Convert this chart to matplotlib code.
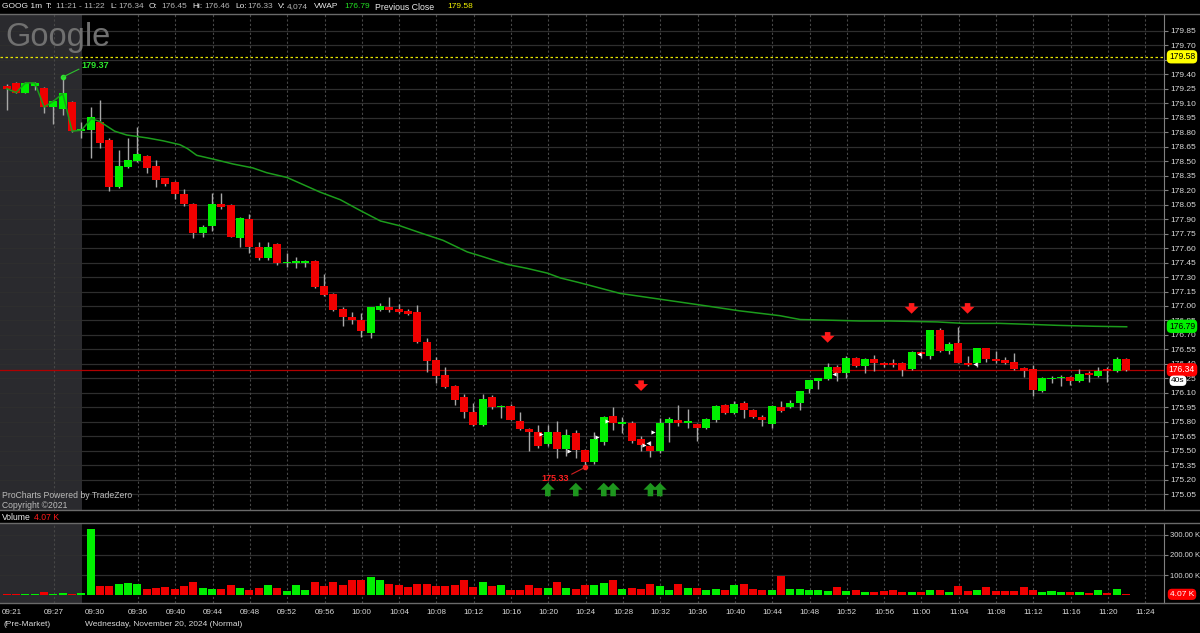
"""GOOG 1m chart, TradeZero ProCharts look: candles + VWAP + volume pane."""

import matplotlib

matplotlib.use("Agg")
import matplotlib.pyplot as plt  # noqa: E402
import matplotlib.transforms as mtransforms  # noqa: E402
from matplotlib.lines import Line2D  # noqa: E402
import numpy as np  # noqa: E402

W, H = 1200, 633

# ---- data --------------------------------------------------------------
# bar minute relative to 09:30 (pre-market bars negative)
minutes = list(range(-9, 112))

opens = [
    179.28, 179.31, 179.21, 179.28, 179.26, 179.06, 179.04, 179.11, 178.81,
    178.82, 178.90, 178.72, 178.23, 178.44, 178.50, 178.55, 178.45, 178.32, 178.28,
    178.16, 178.06, 177.76, 177.83, 178.06, 178.05, 177.70, 177.90, 177.61, 177.50,
    177.64, 177.44, 177.44, 177.45, 177.47, 177.21, 177.12, 176.97, 176.89, 176.85,
    176.72, 176.96, 176.99, 176.97, 176.95, 176.94, 176.63, 176.44, 176.29, 176.17,
    176.06, 175.90, 175.77, 176.06, 175.95, 175.96, 175.81, 175.73, 175.70, 175.57,
    175.70, 175.52, 175.68, 175.51, 175.38, 175.59, 175.86, 175.78, 175.79, 175.62,
    175.55, 175.50, 175.79, 175.82, 175.79, 175.78, 175.74, 175.82, 175.98, 175.89,
    176.00, 175.92, 175.85, 175.78, 175.95, 175.95, 176.00, 176.14, 176.22, 176.24,
    176.37, 176.31, 176.46, 176.38, 176.45, 176.41, 176.41, 176.41, 176.35, 176.52,
    176.48, 176.75, 176.53, 176.62, 176.41, 176.41, 176.56, 176.45, 176.44, 176.42,
    176.36, 176.35, 176.12, 176.24, 176.25, 176.27, 176.22, 176.30, 176.28, 176.34,
    176.33, 176.45,
]
highs = [
    179.30, 179.32, 179.32, 179.32, 179.27, 179.13, 179.37, 179.12, 178.90,
    179.06, 179.13, 178.74, 178.62, 178.74, 178.85, 178.56, 178.51, 178.33, 178.29,
    178.21, 178.07, 177.84, 178.17, 178.17, 178.06, 177.92, 177.95, 177.66, 177.66,
    177.65, 177.55, 177.51, 177.48, 177.48, 177.33, 177.13, 176.99, 176.94, 176.93,
    176.99, 177.03, 177.09, 177.02, 176.97, 177.01, 176.67, 176.47, 176.37, 176.18,
    176.09, 176.00, 176.09, 176.08, 175.98, 175.99, 175.90, 175.74, 175.77, 175.77,
    175.81, 175.73, 175.72, 175.52, 175.70, 175.86, 175.95, 175.85, 175.81, 175.65,
    175.60, 175.84, 175.85, 175.97, 175.93, 175.79, 175.84, 175.97, 175.99, 176.02,
    176.02, 175.93, 175.87, 175.98, 176.02, 176.03, 176.12, 176.23, 176.25, 176.41,
    176.39, 176.48, 176.47, 176.46, 176.49, 176.42, 176.45, 176.42, 176.53, 176.53,
    176.75, 176.77, 176.63, 176.78, 176.48, 176.57, 176.57, 176.53, 176.47, 176.51,
    176.37, 176.39, 176.26, 176.28, 176.29, 176.28, 176.35, 176.33, 176.37, 176.37,
    176.47, 176.46,
]
lows = [
    179.03, 179.20, 179.20, 179.24, 179.00, 178.88, 178.98, 178.80, 178.74,
    178.53, 178.64, 178.19, 178.22, 178.43, 178.49, 178.38, 178.23, 178.24, 178.11,
    178.04, 177.70, 177.71, 177.78, 178.00, 177.71, 177.61, 177.55, 177.48, 177.48,
    177.42, 177.40, 177.39, 177.40, 177.19, 177.10, 176.95, 176.79, 176.81, 176.68,
    176.67, 176.95, 176.94, 176.93, 176.91, 176.62, 176.32, 176.20, 176.15, 175.98,
    175.84, 175.76, 175.76, 175.93, 175.84, 175.82, 175.72, 175.50, 175.53, 175.55,
    175.43, 175.45, 175.43, 175.33, 175.36, 175.56, 175.72, 175.68, 175.58, 175.50,
    175.44, 175.48, 175.59, 175.76, 175.74, 175.60, 175.73, 175.80, 175.88, 175.88,
    175.84, 175.84, 175.76, 175.74, 175.90, 175.94, 175.92, 176.10, 176.14, 176.23,
    176.22, 176.25, 176.37, 176.31, 176.33, 176.37, 176.37, 176.28, 176.34, 176.46,
    176.45, 176.52, 176.50, 176.41, 176.38, 176.37, 176.42, 176.41, 176.40, 176.34,
    176.26, 176.07, 176.11, 176.20, 176.17, 176.18, 176.21, 176.21, 176.27, 176.21,
    176.32, 176.33,
]
closes = [
    179.25, 179.21, 179.31, 179.31, 179.06, 179.12, 179.20, 178.81, 178.82,
    178.96, 178.69, 178.23, 178.45, 178.51, 178.57, 178.43, 178.30, 178.26, 178.16,
    178.06, 177.76, 177.82, 178.06, 178.03, 177.71, 177.91, 177.61, 177.50, 177.61,
    177.45, 177.46, 177.47, 177.47, 177.20, 177.11, 176.96, 176.89, 176.85, 176.74,
    176.99, 177.00, 176.96, 176.94, 176.92, 176.63, 176.43, 176.28, 176.16, 176.03,
    175.90, 175.77, 176.04, 175.95, 175.96, 175.82, 175.73, 175.70, 175.55, 175.70,
    175.52, 175.66, 175.51, 175.38, 175.62, 175.85, 175.79, 175.79, 175.60, 175.56,
    175.50, 175.79, 175.83, 175.79, 175.80, 175.74, 175.83, 175.96, 175.89, 175.99,
    175.92, 175.85, 175.82, 175.96, 175.91, 176.00, 176.12, 176.23, 176.25, 176.37,
    176.31, 176.46, 176.38, 176.45, 176.41, 176.39, 176.39, 176.34, 176.52, 176.50,
    176.75, 176.53, 176.61, 176.41, 176.39, 176.56, 176.45, 176.43, 176.41, 176.35,
    176.33, 176.13, 176.25, 176.25, 176.26, 176.22, 176.30, 176.29, 176.33, 176.33,
    176.45, 176.34,
]
# volume in thousands of shares
volume_k = [
    5, 5, 5, 5, 15, 5, 10, 8, 10,
    328, 47, 47, 55, 60, 55, 32, 37, 40, 32,
    45, 63, 35, 32, 32, 50, 35, 28, 35, 50,
    35, 20, 50, 28, 65, 47, 63, 50, 77, 73,
    88, 73, 58, 50, 40, 55, 55, 47, 47, 50,
    73, 40, 63, 47, 50, 28, 25, 50, 35, 35,
    63, 35, 32, 50, 50, 62, 73, 32, 35, 30,
    58, 47, 28, 58, 38, 35, 28, 32, 25, 50,
    58, 32, 25, 25, 97, 32, 32, 25, 25, 20,
    40, 20, 25, 17, 17, 20, 28, 17, 17, 17,
    28, 28, 17, 47, 20, 25, 40, 20, 20, 20,
    40, 28, 17, 20, 17, 17, 17, 13, 25, 13,
    32, 4,
]

# VWAP line vertices (minute, price) from 09:30 on
vwap_t = [1.0, 1.9, 3.5, 4.8, 7.0, 8.7, 10.5, 11.3, 12.3, 14.1, 16.2, 18.3,
          19.8, 22.0, 23.4, 25.5, 27.7, 29.8, 32.0, 34.1, 36.2, 38.7, 41.3,
          43.0, 45.6, 47.7, 49.9, 51.3, 53.4, 57.7, 62.0, 66.3, 70.5, 74.8,
          77.0, 79.4, 83.4, 86.6, 91.7, 94.5, 98.4, 101.6, 104.5, 108.6, 112.0]
vwap = [178.94, 178.91, 178.81, 178.77, 178.74, 178.71, 178.67, 178.63,
        178.56, 178.52, 178.47, 178.43, 178.38, 178.33, 178.27, 178.18,
        178.10, 177.99, 177.88, 177.83, 177.76, 177.68, 177.56, 177.51,
        177.43, 177.39, 177.34, 177.29, 177.24, 177.13, 177.07, 177.01,
        176.95, 176.90, 176.86, 176.855, 176.845, 176.845, 176.835, 176.82,
        176.82, 176.81, 176.80, 176.79, 176.785]

prev_close = 179.58
vwap_last = 176.79
last_price = 176.34
last_volume_k = 4.07

# signal arrows (bar minute) and white fill markers
up_arrow_bars = [49, 52, 55, 56, 60, 61]
down_arrow_bars = [59, 79, 88, 94]
down_arrow_tops = [176.23, 176.73, 177.03, 177.03]
fill_t = [49.2, 52.25, 55.2, 56.3, 60.2, 60.7, 61.25, 80.6, 89.7, 95.7]
fill_price = [175.67, 175.50, 175.64, 175.81, 175.56, 175.58, 175.70,
              176.30, 176.50, 176.40]
fill_side = [">", ">", ">", ">", ">", "<", ">", "<", "<", "<"]

# ---- styling ----------------------------------------------------------
GREEN = "#00f000"
RED = "#f00000"
WICK = "#a8a8a8"
PRE_BG = "#2a2a2e"
GRID = "#2e2e2e"
VGRID = "#474747"
TXT = "#dadada"
BAR_X = 0.94          # bars sit just left of the next minute gridline
BAR_W = 0.86
XLIM = (-8.79, 116.0)

plt.rcParams.update({
    "font.family": ["Liberation Sans", "DejaVu Sans"],
    "font.size": 6,
})


def rect(x0, y0, x1, y1):
    return [x0 / W, 1 - y1 / H, (x1 - x0) / W, (y1 - y0) / H]


def fig_text(x, y, s, color=TXT, size=6.0, **kw):
    fig.text(x / W, 1 - y / H, s, color=color, fontsize=size, va="center", **kw)


def hline(y, color="#6a6a6a"):
    fig.add_artist(Line2D([0, 1], [1 - y / H] * 2, transform=fig.transFigure,
                          color=color, lw=1))


def clock(m):
    t = 9 * 60 + 30 + m
    return f"{t // 60:02d}:{t % 60:02d}"


fig = plt.figure(figsize=(W / 100, H / 100), dpi=100)
fig.patch.set_facecolor("black")
ax = fig.add_axes(rect(0, 14, 1164, 510))
axv = fig.add_axes(rect(0, 523, 1164, 603), sharex=ax)

x = np.array(minutes) + BAR_X
o, h, l, c = (np.array(v) for v in (opens, highs, lows, closes))
colors = np.where(c >= o, GREEN, RED)

grid_minutes = [-3] + list(range(6, 115, 4))
for a in (ax, axv):
    a.set_facecolor("black")
    a.set_xlim(*XLIM)
    a.axvspan(XLIM[0], 0, color=PRE_BG, lw=0, zorder=0)
    for g in grid_minutes:
        a.axvline(g, color=VGRID, lw=0.8, ls=(0, (2, 2)), zorder=0.6)
    a.set_axisbelow(True)
    a.grid(axis="y", color=GRID, lw=0.9)
    a.yaxis.tick_right()
    a.tick_params(axis="y", colors=TXT, labelsize=6, length=3, pad=1.5,
                  color="#808080")
    for side in ("left", "top", "bottom"):
        a.spines[side].set_visible(False)
    a.spines["right"].set_color("#808080")

# ---- price pane ---------------------------------------------------------
ax.set_ylim(174.888, 180.023)
ticks = np.round(np.arange(175.05, 179.86, 0.15), 2)
ax.set_yticks(ticks)
# the previous-close tag hides the tick label right under it
ax.set_yticklabels(["" if abs(t - prev_close) < 0.05 else f"{t:.2f}"
                    for t in ticks])
ax.tick_params(axis="x", bottom=False, labelbottom=False)

ax.axhline(prev_close, color="#e6e600", lw=0.9, ls=(0, (2, 2)), zorder=1.5)
ax.axhline(last_price, color="#b00000", lw=0.9, zorder=1.5)

ax.vlines(x, l, h, color=WICK, lw=1, zorder=2)
body_lo = np.minimum(o, c)
body_h = np.maximum(np.abs(c - o), 0.018)
ax.bar(x, body_h, bottom=body_lo, width=BAR_W, color=colors, lw=0, zorder=3)

# VWAP: pre-market segment follows closes, then the session VWAP
pre = np.array(minutes) < 0
line_x = np.concatenate([x[pre], vwap_t])
line_y = np.concatenate([c[pre], vwap])
ax.plot(line_x, line_y, color="#1c9c1c", lw=1.1, zorder=4)

# premarket high / session low callouts
i_hi = int(np.argmax(h[pre]))
ax.plot(x[i_hi], h[i_hi], "o", color="#2ee62e", ms=3, zorder=5)
ax.annotate(f"{h[i_hi]:.2f}", xy=(x[i_hi], h[i_hi]), xytext=(19, 12),
            textcoords="offset pixels", color="#2ee62e", fontsize=6.5,
            fontweight="bold", ha="left", va="center", zorder=5,
            arrowprops=dict(arrowstyle="-", color="#2ec02e", lw=0.8,
                            shrinkA=0, shrinkB=0, relpos=(0, 0.2)))
i_lo = int(np.argmin(l))
ax.plot(x[i_lo], l[i_lo], "o", color="#ff2020", ms=3, zorder=5)
ax.annotate(f"{l[i_lo]:.2f}", xy=(x[i_lo], l[i_lo]), xytext=(-30, -11),
            textcoords="offset pixels", color="#ff2020", fontsize=6.5,
            fontweight="bold", ha="center", va="center", zorder=5,
            arrowprops=dict(arrowstyle="-", color="#d02020", lw=0.8,
                            shrinkA=0, shrinkB=0, relpos=(1, 0.8)))

arrow_style = "simple,head_length=0.5,head_width=1.0,tail_width=0.4"
for b in up_arrow_bars:
    ax.annotate("", xy=(b + BAR_X, 175.17), xytext=(b + BAR_X, 175.03),
                arrowprops=dict(arrowstyle=arrow_style, mutation_scale=10,
                                fc="#1e961e", ec="none", shrinkA=0, shrinkB=0),
                zorder=5)
for b, top in zip(down_arrow_bars, down_arrow_tops):
    ax.annotate("", xy=(b + BAR_X, top - 0.11), xytext=(b + BAR_X, top),
                arrowprops=dict(arrowstyle=arrow_style, mutation_scale=10,
                                fc="#ff1a1a", ec="none", shrinkA=0, shrinkB=0),
                zorder=5)
for t, p, s in zip(fill_t, fill_price, fill_side):
    ax.scatter(t, p, marker=s, s=9, color="white", lw=0, zorder=6)

# watermark + footer
ax.text(5 / 1164, 1 - 32 / 496, "Google", transform=ax.transAxes,
        color="#707070", fontsize=23.5, ha="left", va="baseline", zorder=1)
ax.text(2 / 1164, 14 / 496, "ProCharts Powered by TradeZero",
        transform=ax.transAxes, color="#bcbcbc", fontsize=6.2, va="center")
ax.text(2 / 1164, 4 / 496, "Copyright \u00a92021",
        transform=ax.transAxes, color="#bcbcbc", fontsize=6.2, va="center")

# right-axis value tags (they sit over the tick labels, as on the platform)
tr = mtransforms.blended_transform_factory(ax.transAxes, ax.transData)
tag_x = 1182 / 1164
for val, fc, tc in ((prev_close, "#ffff00", "black"),
                    (vwap_last, "#00f000", "black"),
                    (last_price, "#ff0000", "white")):
    ax.text(tag_x, val, f"{val:.2f}", transform=tr, ha="center", va="center",
            color=tc, fontsize=6.2, clip_on=False, zorder=10,
            bbox=dict(boxstyle="round,pad=0.25,rounding_size=0.5", fc=fc,
                      ec="none"))
ax.annotate("40s", xy=(1178 / 1164, last_price), xycoords=tr,
            xytext=(0, -11), textcoords="offset pixels", ha="center",
            va="center", color="black", fontsize=6, annotation_clip=False,
            zorder=10, bbox=dict(boxstyle="round,pad=0.2,rounding_size=0.5",
                                 fc="white", ec="none"))

# ---- volume pane --------------------------------------------------------
axv.set_ylim(-39, 359)
axv.bar(x, volume_k, width=BAR_W, color=colors, lw=0, zorder=3)
axv.set_yticks([100, 200, 300])
axv.set_yticklabels([f"{v:.2f} K" for v in (100, 200, 300)])
axv.tick_params(axis="y", labelsize=5.5, pad=1)
trv = mtransforms.blended_transform_factory(axv.transAxes, axv.transData)
axv.text(tag_x, last_volume_k, f"{last_volume_k:.2f} K", transform=trv,
         ha="center", va="center", color="white", fontsize=6, clip_on=False,
         zorder=10, bbox=dict(boxstyle="round,pad=0.25,rounding_size=0.5",
                              fc="#ff0000", ec="none"))

label_minutes = grid_minutes
axv.set_xticks(label_minutes)
axv.set_xticklabels([clock(m) for m in label_minutes])
axv.tick_params(axis="x", colors=TXT, labelsize=5.8, length=0, pad=4)
trx = mtransforms.blended_transform_factory(axv.transData, axv.transAxes)
axv.text(XLIM[0] + 0.2, -0.12, clock(-9), transform=trx, color=TXT,
         fontsize=5.8, ha="left", va="center", clip_on=False)
axv.text(0.3, -0.12, clock(0), transform=trx, color=TXT,
         fontsize=5.8, ha="left", va="center", clip_on=False)

# ---- frame lines and header ---------------------------------------------
for y in (14, 510, 523, 603):
    hline(y)

fig_text(2, 7, "GOOG 1m", "#ececec")
fig_text(46, 7, "T:", "#ececec")
fig_text(56, 7, "11:21 - 11:22", "#b4b4b4")
for xl, lab, xv, val in ((110, "L:", 118, "176.34"), (149, "O:", 161, "176.45"),
                         (192, "Hi:", 204, "176.46"), (235, "Lo:", 247, "176.33"),
                         (278, "V:", 287, "4,074")):
    fig_text(xl, 7, lab, "#ececec")
    fig_text(xv, 7, val, "#b4b4b4")
fig_text(314, 7, "VWAP", "#ececec")
fig_text(344, 7, f"{vwap_last:.2f}", "#22dd22")
fig_text(375, 7, "Previous Close", "#ececec", size=6.3)
fig_text(447, 7, f"{prev_close:.2f}", "#f0f000")

fig_text(2, 517, "Volume", "#ececec", size=6.2)
fig_text(34, 517, f"{last_volume_k:.2f} K", "#ff1a1a", size=6.2)
fig_text(3, 624, "(Pre-Market)", TXT)
fig_text(85, 624, "Wednesday, November 20, 2024 (Normal)", TXT)

fig.savefig("out.png", dpi=100, facecolor="black")
